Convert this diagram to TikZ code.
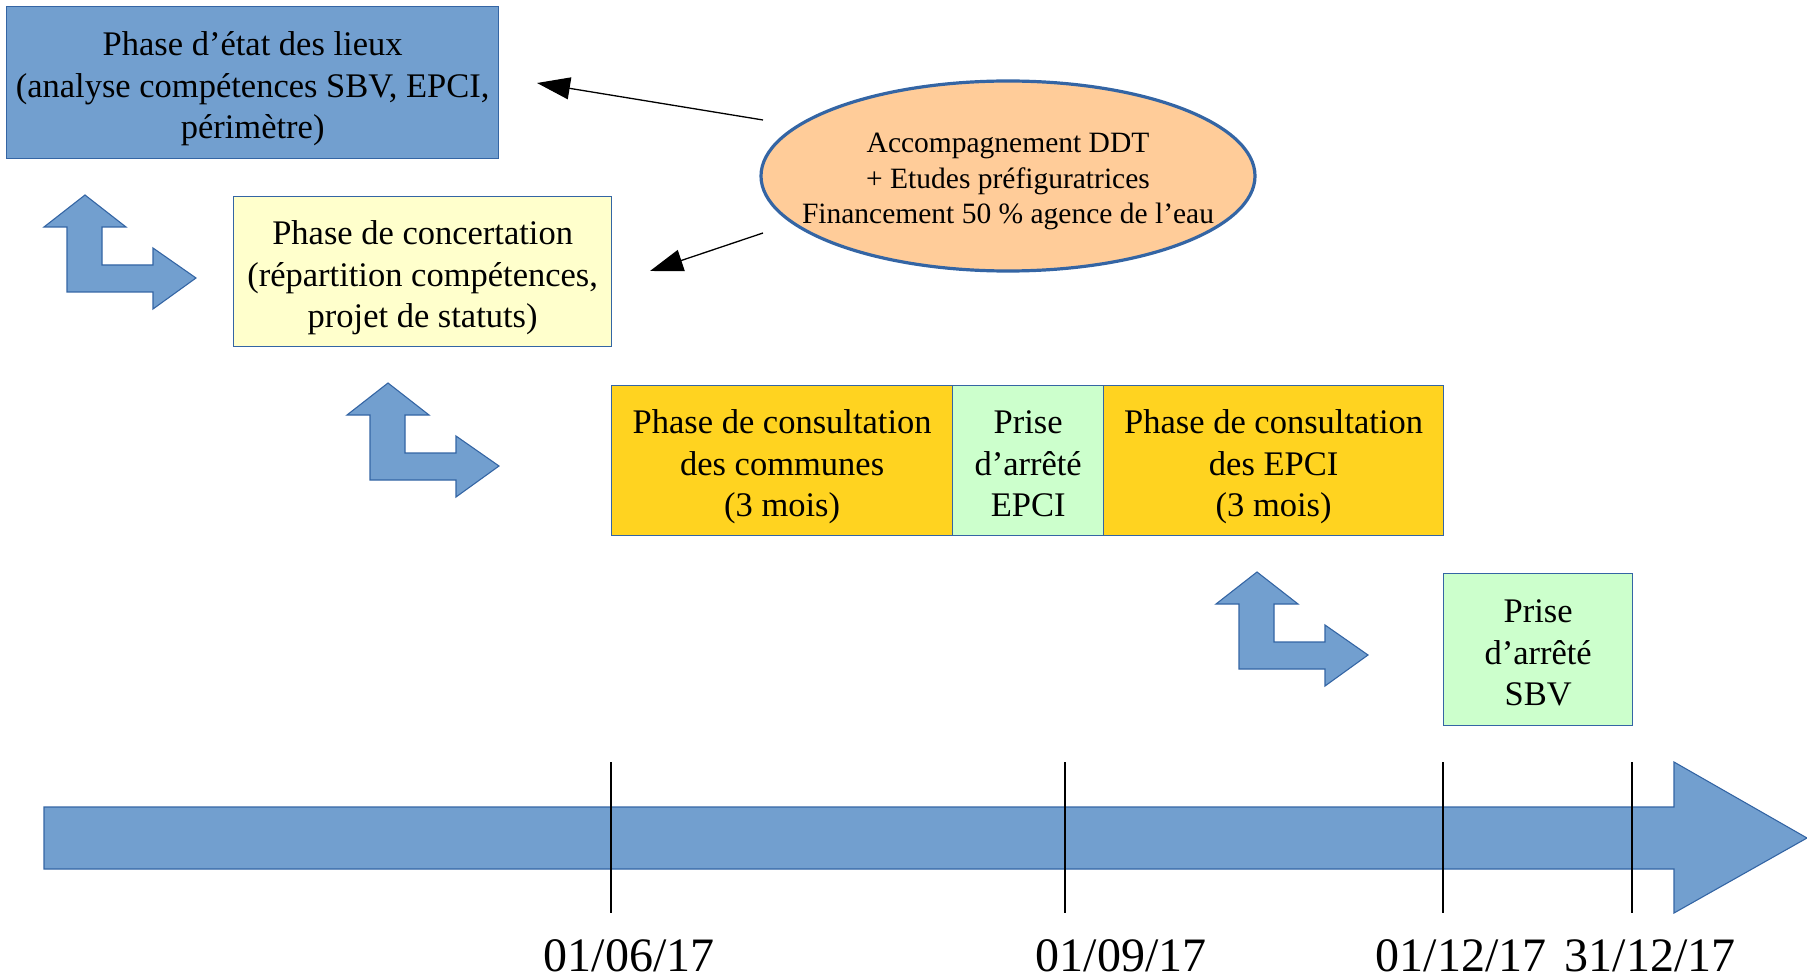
\documentclass[tikz,border=0pt]{standalone}
\usepackage{fontspec}
\setmainfont{Liberation Serif}
\usetikzlibrary{shapes.geometric,arrows.meta}
\definecolor{bluefill}{HTML}{729FCF}
\definecolor{blueline}{HTML}{3465A4}
\definecolor{paleyellow}{HTML}{FFFFCC}
\definecolor{gold}{HTML}{FFD320}
\definecolor{palegreen}{HTML}{CCFFCC}
\definecolor{peach}{HTML}{FFCC99}
\newcommand\tstrut{\rule{0pt}{1.05em}}
\newcommand\bstrut{\rule[-0.216em]{0pt}{0pt}}
\tikzset{
  box/.style={draw=blueline, line width=1.3pt, rectangle, inner sep=0pt, anchor=north west,
    align=center, font=\fontsize{34.5}{41.5}\selectfont},
  bentstyle/.style={fill=bluefill, draw=blueline, line width=1.1pt, line join=miter},
  bentarrow/.pic={\path[bentstyle] (0,0) -- (41,32) -- (17,32) -- (17,70) -- (68,70) -- (68,53)
      -- (111,83) -- (68,114) -- (68,97) -- (-18,97) -- (-18,32) -- (-41,32) -- cycle;},
  tick/.style={draw=black, line width=1.2pt},
  datelabel/.style={anchor=base, inner sep=0pt, font=\fontsize{48}{56}\selectfont},
  pointer/.style={draw=black, line width=1.3pt, -{Triangle[length=33pt,width=22pt]}}
}
\begin{document}
\begin{tikzpicture}[x=1pt,y=-1pt]
\useasboundingbox (0,0) rectangle (1807,976);

% phase boxes
\node[box, fill=bluefill, minimum width=492pt, minimum height=152pt] (etat) at (6,6)
  {\tstrut Phase d’état des lieux\\(analyse compétences SBV, EPCI,\\périmètre)\bstrut};
\node[box, fill=paleyellow, minimum width=378pt, minimum height=150pt] (concert) at (233,196)
  {\tstrut Phase de concertation\\(répartition compétences,\\projet de statuts)\bstrut};
\node[box, fill=gold, minimum width=341pt, minimum height=150pt] (consultA) at (611,385)
  {\tstrut Phase de consultation\\des communes\\(3 mois)\bstrut};
\node[box, fill=palegreen, minimum width=151pt, minimum height=150pt] (arreteE) at (952,385)
  {\tstrut Prise\\d’arrêté\\EPCI\bstrut};
\node[box, fill=gold, minimum width=340pt, minimum height=150pt] (consultC) at (1103,385)
  {\tstrut Phase de consultation\\des EPCI\\(3 mois)\bstrut};
\node[box, fill=palegreen, minimum width=189pt, minimum height=152pt] (arreteS) at (1443,573)
  {\tstrut Prise\\d’arrêté\\SBV\bstrut};

% ellipse
\node[ellipse, draw=blueline, fill=peach, line width=3.2pt, minimum width=494pt, minimum height=190pt,
  inner sep=0pt] (ddt) at (1008,176) {};
\node[align=center, inner sep=0pt, font=\fontsize{29.5}{35.5}\selectfont] (ddttext) at (ddt.center)
  {\tstrut Accompagnement DDT\\+ Etudes préfiguratrices\\Financement 50 \% agence de l’eau\bstrut};

\coordinate (t1) at (763,120);
\coordinate (h1) at (537,83);
\coordinate (t2) at (763,233);
\coordinate (h2) at (650,271);
\draw[pointer] (t1) -- (h1);
\draw[pointer] (t2) -- (h2);

% bent arrows
\pic (b1) at (85,195) {bentarrow};
\pic (b2) at (388,383) {bentarrow};
\pic (b3) at (1257,572) {bentarrow};

% timeline
\path[fill=bluefill, draw=blueline, line width=1.1pt] (44,807) -- (1674,807) -- (1674,762)
  -- (1807,838) -- (1674,913) -- (1674,869) -- (44,869) -- cycle;
\draw[tick] (611,762) -- (611,913);
\draw[tick] (1065,762) -- (1065,913);
\draw[tick] (1443,762) -- (1443,913);
\draw[tick] (1632,762) -- (1632,913);

\node[datelabel] (d1) at (629,971) {01/06/17};
\node[datelabel] (d2) at (1121,971) {01/09/17};
\node[datelabel] (d3) at (1461,971) {01/12/17};
\node[datelabel] (d4) at (1650,971) {31/12/17};
\end{tikzpicture}
\end{document}
